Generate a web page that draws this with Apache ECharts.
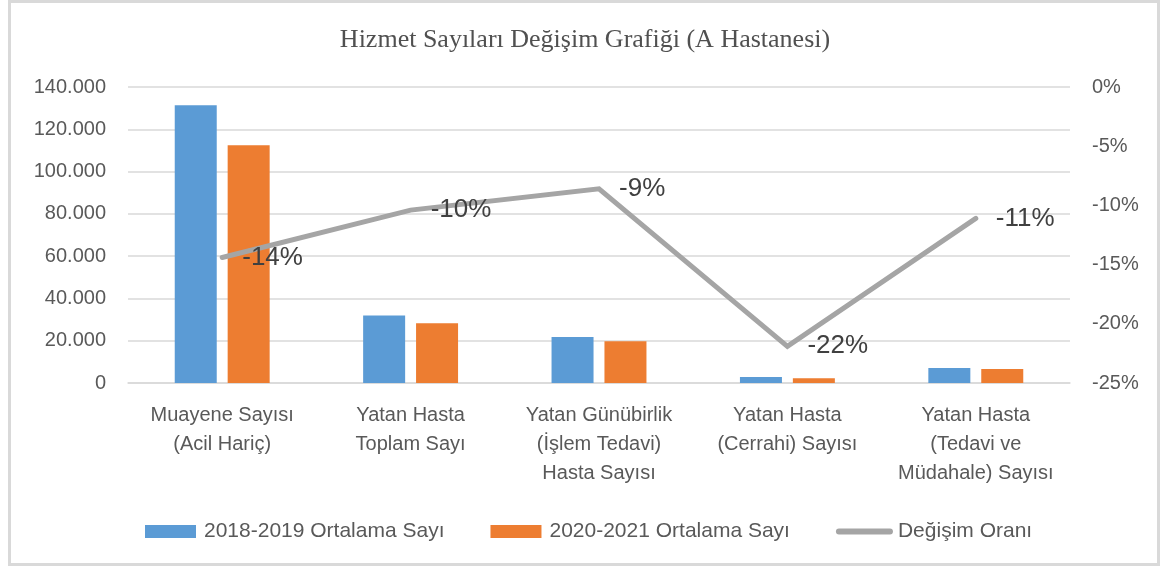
<!DOCTYPE html>
<html>
<head>
<meta charset="utf-8">
<script src="https://cdn.jsdelivr.net/npm/echarts@6/dist/echarts.min.js"></script>
<style>
    body { margin: 0; background: #fff; }
    #chart { width: 1170px; height: 568px; }
</style>
</head>
<body>
<div id="chart"></div>
<script>
// kategoriler
const categories = [
    'Muayene Sayısı\n(Acil Hariç)',
    'Yatan Hasta\nToplam Sayı',
    'Yatan Günübirlik\n(İşlem Tedavi)\nHasta Sayısı',
    'Yatan Hasta\n(Cerrahi) Sayısı',
    'Yatan Hasta\n(Tedavi ve\nMüdahale) Sayısı'
];
// ortalama sayılar
const avg2018_2019 = [131400, 31900, 21700, 2850, 7080];
const avg2020_2021 = [112500, 28300, 19800, 2200, 6600];
// değişim oranı (%)
const changeRate = [-14.4, -10.4, -8.6, -21.9, -11.1];

const seriesNames = ['2018-2019 Ortalama Sayı', '2020-2021 Ortalama Sayı', 'Değişim Oranı'];

const labelFont = 'Liberation Sans, Arial, sans-serif';

const option = {
    animation: false,
    title: {
        text: 'Hizmet Sayıları Değişim Grafiği (A Hastanesi)',
        left: 'center',
        top: 27,
        padding: 0,
        textStyle: {
            fontFamily: 'Liberation Serif, Times New Roman, serif',
            fontSize: 26,
            fontWeight: 'normal',
            color: '#505050'
        }
    },
    graphic: [{
        type: 'rect',
        shape: { x: 9.5, y: 1.5, width: 1149, height: 563 },
        style: { fill: 'none', stroke: '#d9d9d9', lineWidth: 3 },
        silent: true
    }],
    legend: {
        left: 140,
        top: 516,
        itemWidth: 51,
        itemHeight: 13,
        itemGap: 46,
        textStyle: { fontFamily: labelFont, fontSize: 21, color: '#595959', padding: [0, 0, 0, 3] },
        data: [
            { name: seriesNames[0], icon: 'rect' },
            { name: seriesNames[1], icon: 'rect' },
            {
                name: seriesNames[2],
                itemStyle: { opacity: 0 },
                lineStyle: { width: 6, cap: 'round', color: '#a5a5a5' }
            }
        ]
    },
    grid: { left: 128, right: 100, top: 87, bottom: 185, containLabel: false },
    xAxis: {
        type: 'category',
        data: categories,
        axisTick: { show: false },
        axisLine: { lineStyle: { color: '#d9d9d9', width: 1.5 } },
        axisLabel: {
            margin: 18,
            interval: 0,
            fontFamily: labelFont,
            fontSize: 20,
            lineHeight: 29,
            color: '#595959'
        }
    },
    yAxis: [
        {
            type: 'value',
            min: 0,
            max: 140000,
            interval: 20000,
            axisLine: { show: false },
            axisTick: { show: false },
            splitLine: { lineStyle: { color: '#d9d9d9', width: 1.5 } },
            axisLabel: {
                margin: 22,
                fontFamily: labelFont,
                fontSize: 20,
                color: '#595959',
                formatter: v => v === 0 ? '0' : (v / 1000) + '.000'
            }
        },
        {
            type: 'value',
            min: -25,
            max: 0,
            interval: 5,
            axisLine: { show: false },
            axisTick: { show: false },
            splitLine: { show: false },
            axisLabel: {
                margin: 22,
                fontFamily: labelFont,
                fontSize: 20,
                color: '#595959',
                formatter: v => v + '%'
            }
        }
    ],
    series: [
        {
            name: seriesNames[0],
            type: 'bar',
            data: avg2018_2019,
            barWidth: 42,
            barGap: '26%',
            itemStyle: { color: '#5b9bd5' }
        },
        {
            name: seriesNames[1],
            type: 'bar',
            data: avg2020_2021,
            barWidth: 42,
            itemStyle: { color: '#ed7d31' }
        },
        {
            name: seriesNames[2],
            type: 'line',
            yAxisIndex: 1,
            data: changeRate,
            symbol: 'circle',
            symbolSize: 0.1,
            lineStyle: { color: '#a5a5a5', width: 5, cap: 'round', join: 'miter' },
            itemStyle: { color: '#a5a5a5' },
            label: {
                show: true,
                position: 'right',
                distance: 20,
                fontFamily: labelFont,
                fontSize: 26,
                color: '#404040',
                formatter: p => Math.round(p.value) + '%'
            }
        }
    ]
};

echarts.init(document.getElementById('chart')).setOption(option);
</script>
</body>
</html>
